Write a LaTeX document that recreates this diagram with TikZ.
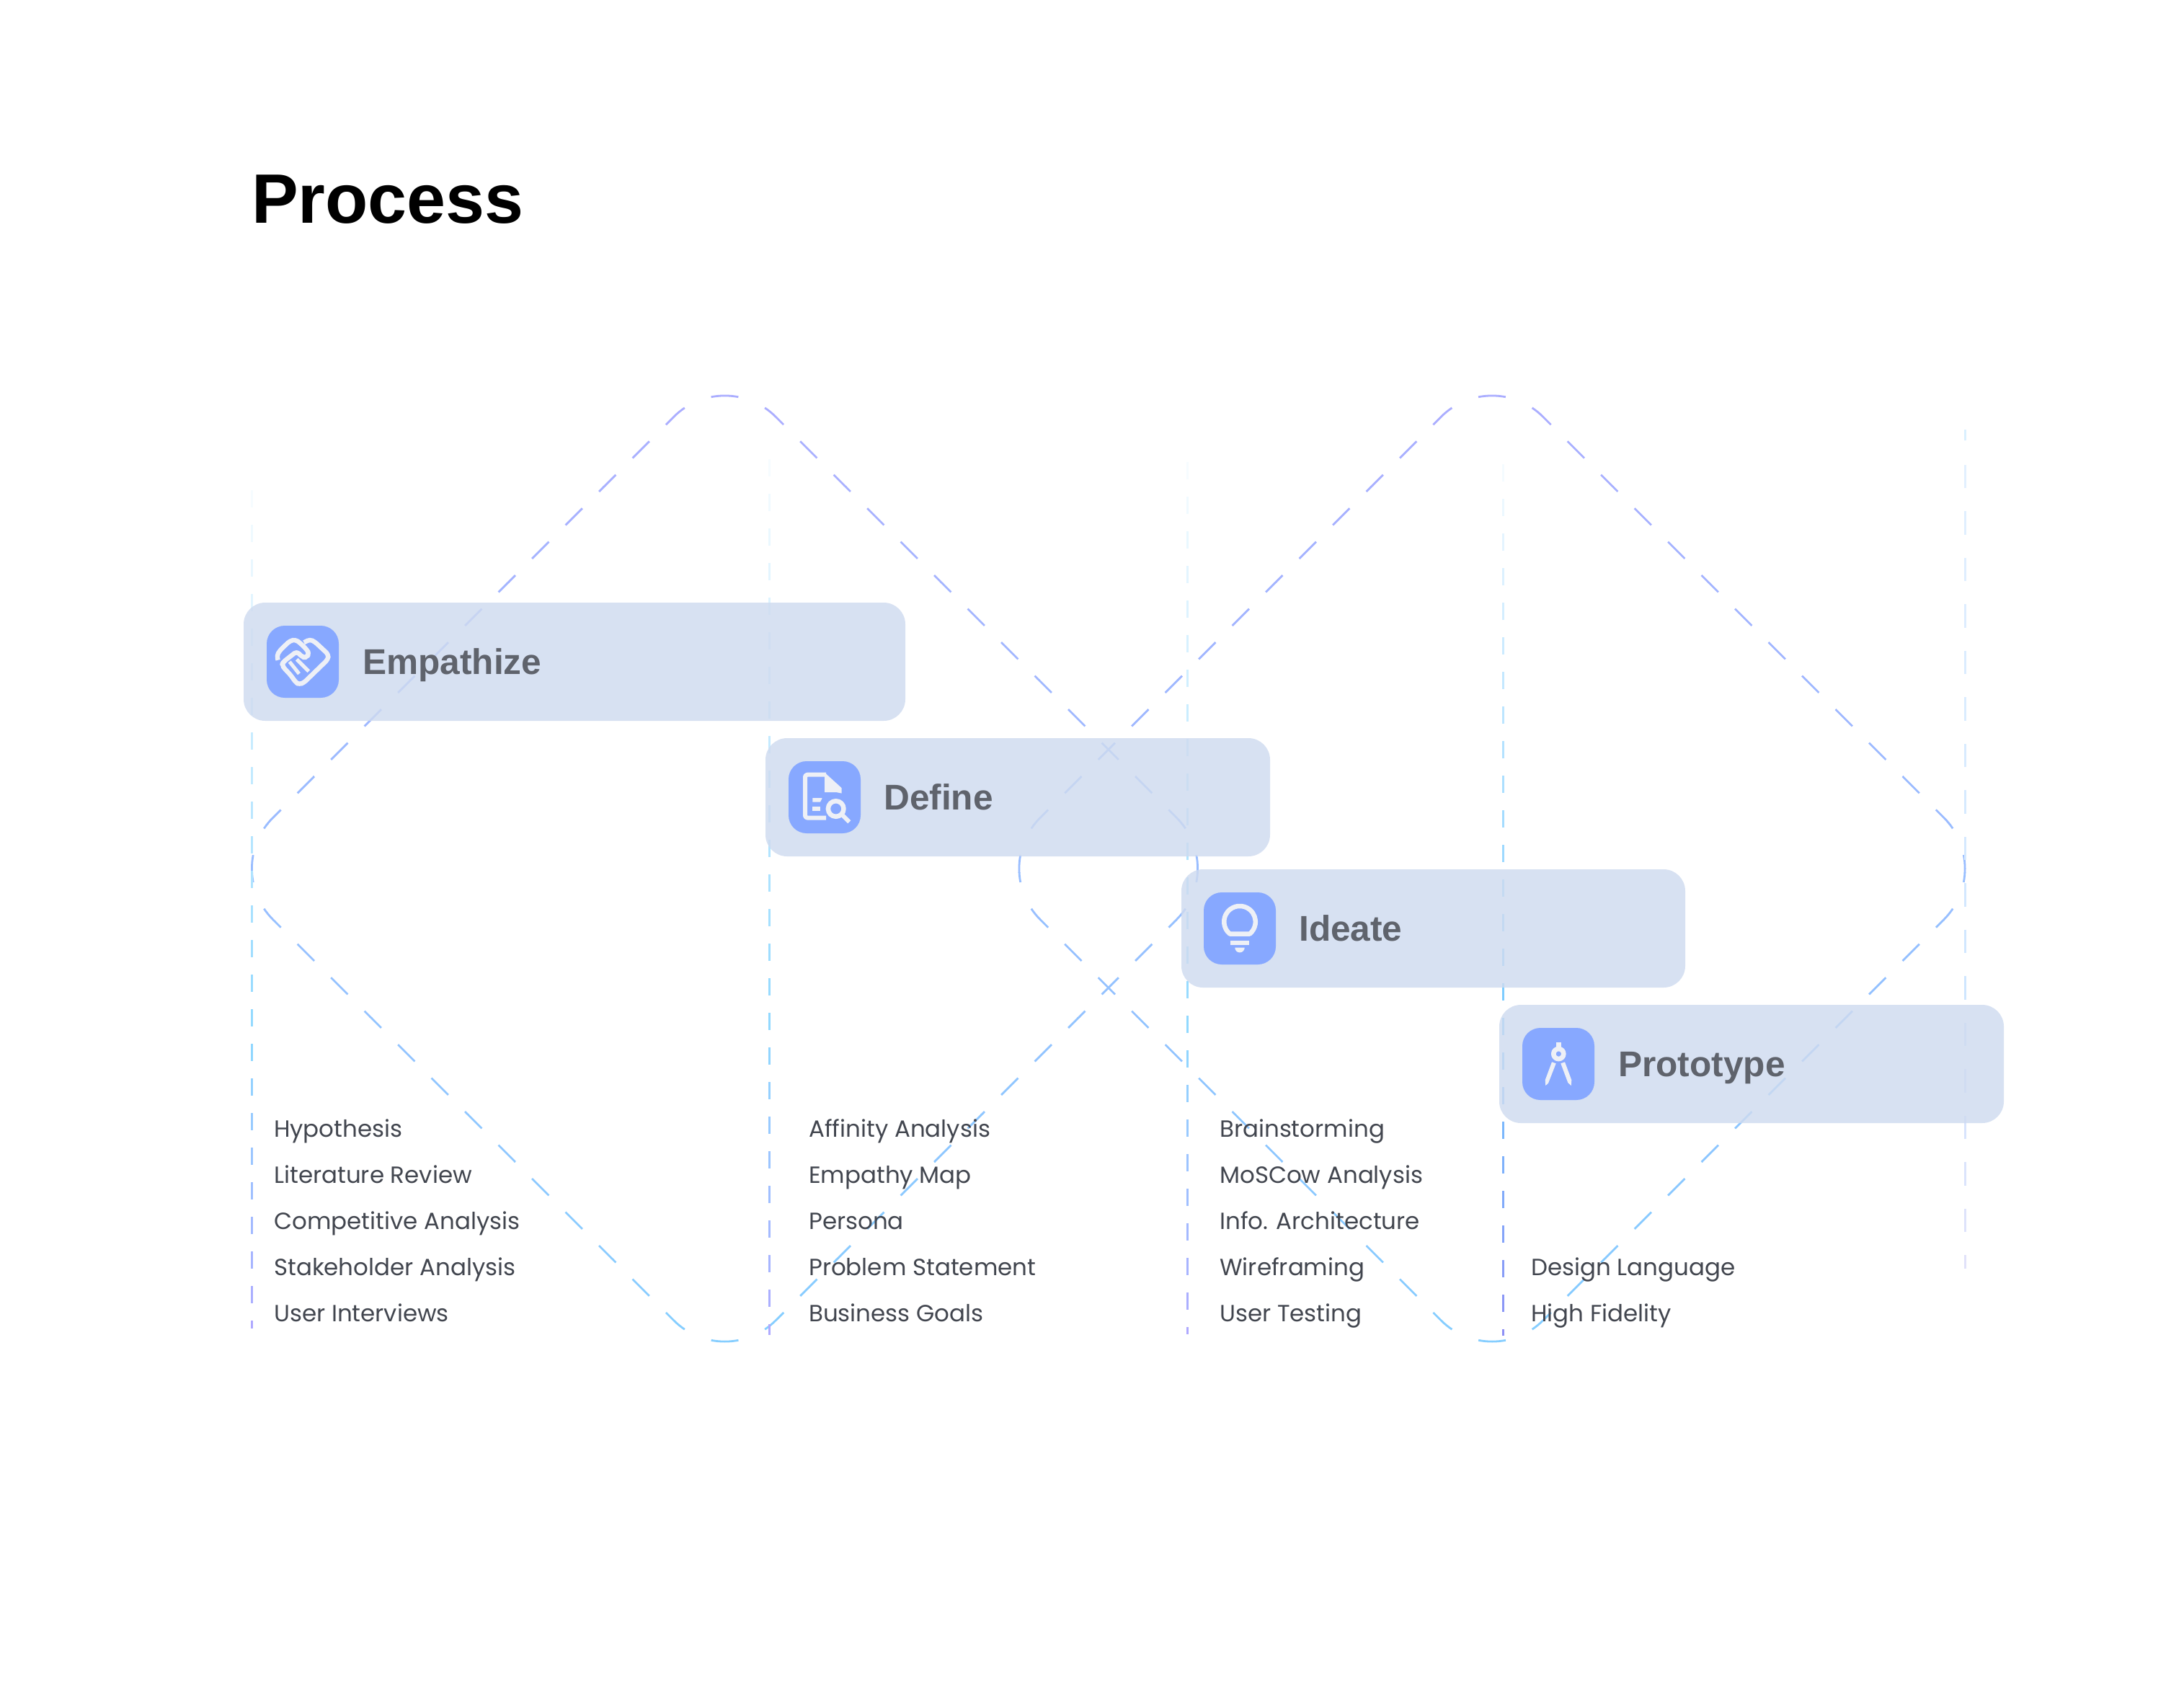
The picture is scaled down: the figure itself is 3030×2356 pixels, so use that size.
\documentclass[tikz,border=0pt]{standalone}
\usepackage{fontspec}
\setmainfont{Poppins}
\newfontfamily\headfont{Liberation Sans}
\newfontfamily\listfont{Poppins}

\definecolor{barblue}{HTML}{CFDBF0}
\definecolor{tileblue}{HTML}{87A8FF}
\definecolor{glyphwhite}{HTML}{EEF0F6}
\definecolor{labelgrey}{HTML}{5F636C}
\definecolor{itemgrey}{HTML}{42464F}
\definecolor{looptop}{HTML}{ABAEFF}
\definecolor{loopbottom}{HTML}{86CEFF}
\definecolor{guidesky}{HTML}{8FD8FF}
\definecolor{guidedeep}{HTML}{72C8FF}
\definecolor{guidepurple}{HTML}{B0A8FF}
\definecolor{guideviolet}{HTML}{8F8FF5}
\definecolor{guidepale}{HTML}{CFE6FF}
\definecolor{guidelavender}{HTML}{E2E2FA}

\tikzset{
        loopline/.style={line width=2.8pt},
        loopside/.style={loopline, dash pattern=on 33pt off 32.74pt},
        loopcorner/.style={loopline, rounded corners=100pt, dash pattern=on 35pt off 40pt on 38pt off 40pt on 35pt off 40pt},
        stagebar/.style={fill=barblue, fill opacity=.82, rounded corners=30pt, inner sep=0pt, outer sep=0pt, anchor=north west, minimum height=164pt},
        tile/.style={fill=tileblue, rounded corners=25pt, inner sep=0pt, outer sep=0pt, anchor=north west, minimum size=100pt},
        glyph/.style={draw=glyphwhite, line width=6.4pt, line join=round},
        glyphfill/.style={fill=glyphwhite},
        maintitle/.style={anchor=base west, inner sep=0pt, font=\fontsize{97}{112}\selectfont\headfont\bfseries},
        stagelabel/.style={anchor=base west, inner sep=0pt, text=labelgrey, font=\fontsize{49.6}{58}\selectfont\headfont\bfseries},
        listitem/.style={anchor=base west, inner sep=0pt, text=itemgrey, font=\fontsize{32.5}{38}\selectfont\listfont},
}

% one rounded diamond, coloured in horizontal bands from top to bottom
\newcommand{\loopdiamond}[1]{
        \foreach \k in {0,...,19} {
                \pgfmathsetmacro{\bandtop}{540+\k*67}
                \pgfmathsetmacro{\mixpct}{100-\k*100/19}
                \begin{scope}
                        \clip (0,\bandtop) rectangle (3030,\bandtop+67);
                        \foreach \a in {0,90,180,270} {
                                \draw[loopcorner, rotate around={\a:(#1,1205)}, color=looptop!\mixpct!loopbottom] ({#1-81.67},589.17) -- (#1,507.5) -- ({#1+81.67},589.17);
                                \draw[loopside, rotate around={\a:(#1,1205)}, color=looptop!\mixpct!loopbottom] ({#1+104.65},612.15) -- ({#1+592.85},1100.35);
                        }
                \end{scope}
        }
}

% x, first y, last y, dash, period, middle colour, end colour, start strength
\newcommand{\guideline}[8]{
        \pgfmathtruncatemacro{\dashcount}{(#3-#2)/#5}
        \foreach \i in {0,...,\dashcount} {
                \pgfmathsetmacro{\dashtop}{#2+\i*#5}
                \pgfmathsetmacro{\dashend}{min(\dashtop+#4,#3)}
                \pgfmathsetmacro{\along}{(\dashtop-#2)/(#3-#2)}
                \pgfmathsetmacro{\fadepct}{min(100,#8+(100-#8)*\along/.65)}
                \pgfmathsetmacro{\endpct}{max(0,(\along-.65)/.35*100)}
                \draw[line width=3pt, color=#7!\endpct!#6!\fadepct!white] (#1,\dashtop) -- (#1,\dashend);
        }
}

\begin{document}
\begin{tikzpicture}[x=1pt,y=-1pt]
        \useasboundingbox (0,0) rectangle (3030,2356);
        \fill[white] (0,0) rectangle (3030,2356);

        \node[maintitle] (title) at (349,309) {Process};

        \loopdiamond{1005.5}
        \loopdiamond{2070}

        \guideline{349.7}{680}{1843}{24}{48}{guidesky}{guidepurple}{8}
        \guideline{1067}{637}{1852}{24}{48}{guidesky}{guidepurple}{8}
        \guideline{1647.5}{641}{1851}{24}{48}{guidesky}{guidepurple}{8}
        \guideline{2085}{644}{1853}{24}{48}{guidedeep}{guideviolet}{8}
        \draw[line width=3pt, color=guidepale!60!guidesky!50!white] (2726,596) -- (2726,611);
        \guideline{2726}{644.5}{1760}{32.5}{64.5}{guidepale}{guidelavender}{60}

        \node[stagebar, minimum width=918pt] (empathizebar) at (338,836) {};
        \node[stagebar, minimum width=700pt] (definebar) at (1062,1024) {};
        \node[stagebar, minimum width=699pt] (ideatebar) at (1639,1206) {};
        \node[stagebar, minimum width=700pt] (prototypebar) at (2080,1394) {};

        \node[tile] (empathizetile) at (370,868) {};
        \node[tile] (definetile) at (1094,1056) {};
        \node[tile] (ideatetile) at (1670,1238) {};
        \node[tile] (prototypetile) at (2112,1426) {};

        % handshake
        \begin{scope}[shift={(370,868)}]
                \draw[glyph, rounded corners=4pt] (15.7,47.7) -- (14,41.7) -- (18.3,34.3) -- (32.3,21) -- (40,19.3) -- (46.7,24.3) -- (55.7,33.3) -- (59,39) -- (55,44) -- (50,44) -- (41.7,35.7) -- (23.3,50) -- (21,54.3) -- (25,60) -- (31.7,66.7) -- (36.7,73.3) -- (40,78.3) -- (45,81.7) -- (51.7,79) -- (85,46.7) -- (85.7,40) -- (66.7,22.3) -- (60,19) -- (51.7,23.3);
                \draw[glyph, line width=5pt] (31.7,50) -- (45,66.7);
                \draw[glyph, line width=5pt] (41.7,46.7) -- (58.3,63.3);
        \end{scope}

        % document and lens
        \begin{scope}[shift={(1094,1056)}]
                \draw[glyph, line width=6pt, rounded corners=3pt] (52,18.7) -- (23,18.7) -- (23,78.5) -- (52,78.5);
                \fill[glyphfill] (50,15.7) -- (73.5,37) -- (73.5,44.5) -- (66,43) -- (50,43) -- cycle;
                \fill[glyphfill] (33.3,51) -- (46.7,51) -- (44,56.7) -- (33.3,56.7) -- cycle;
                \fill[glyphfill] (33.3,63.3) -- (44,63.3) -- (44,69) -- (33.3,69) -- cycle;
                \draw[glyph, line width=6.5pt] (65.7,66) circle (10.8);
                \draw[glyph, line width=6pt] (74,74) -- (84.3,84.3);
        \end{scope}

        % bulb
        \begin{scope}[shift={(1670,1238)}]
                \draw[glyph, line width=6.5pt] (36.1,57.5) arc[start angle=129.6, end angle=410.4, radius=21.8] -- cycle;
                \fill[glyphfill] (36.7,67.3) rectangle (63.3,73.3);
                \fill[glyphfill] (56.7,76.7) arc[start angle=0, end angle=180, radius=6.7] -- cycle;
        \end{scope}

        % compass
        \begin{scope}[shift={(2112,1426)}]
                \fill[glyphfill] (46.7,20) rectangle (54,28.3);
                \draw[glyph, line width=6.7pt] (50.3,36) circle (7);
                \fill[glyphfill] (41,47.3) -- (46.7,49.3) -- (36,76.7) -- (32.3,80) -- (31.7,72.3) -- cycle;
                \fill[glyphfill] (53.3,49.3) -- (59,47.3) -- (68.3,72.3) -- (67.7,80) -- (63.3,76) -- cycle;
        \end{scope}

        \node[stagelabel] (empathizelabel) at (503,935) {Empathize};
        \node[stagelabel] (definelabel) at (1226,1123) {Define};
        \node[stagelabel] (ideatelabel) at (1802,1305) {Ideate};
        \node[stagelabel] (prototypelabel) at (2245,1493) {Prototype};

        \node[listitem] (hypothesis) at (380,1577) {Hypothesis};
        \node[listitem] (literature) at (380,1641) {Literature Review};
        \node[listitem] (competitive) at (380,1705) {Competitive Analysis};
        \node[listitem] (stakeholder) at (380,1769) {Stakeholder Analysis};
        \node[listitem] (interviews) at (380,1833) {User Interviews};

        \node[listitem] (affinity) at (1122,1577) {Affinity Analysis};
        \node[listitem] (empathymap) at (1122,1641) {Empathy Map};
        \node[listitem] (persona) at (1122,1705) {Persona};
        \node[listitem] (problem) at (1122,1769) {Problem Statement};
        \node[listitem] (goals) at (1122,1833) {Business Goals};

        \node[listitem] (brainstorming) at (1692,1577) {Brainstorming};
        \node[listitem] (moscow) at (1692,1641) {MoSCow Analysis};
        \node[listitem] (architecture) at (1692,1705) {Info. Architecture};
        \node[listitem] (wireframing) at (1692,1769) {Wireframing};
        \node[listitem] (testing) at (1692,1833) {User Testing};

        \node[listitem] (language) at (2124,1769) {Design Language};
        \node[listitem] (fidelity) at (2124,1833) {High Fidelity};
\end{tikzpicture}
\end{document}
